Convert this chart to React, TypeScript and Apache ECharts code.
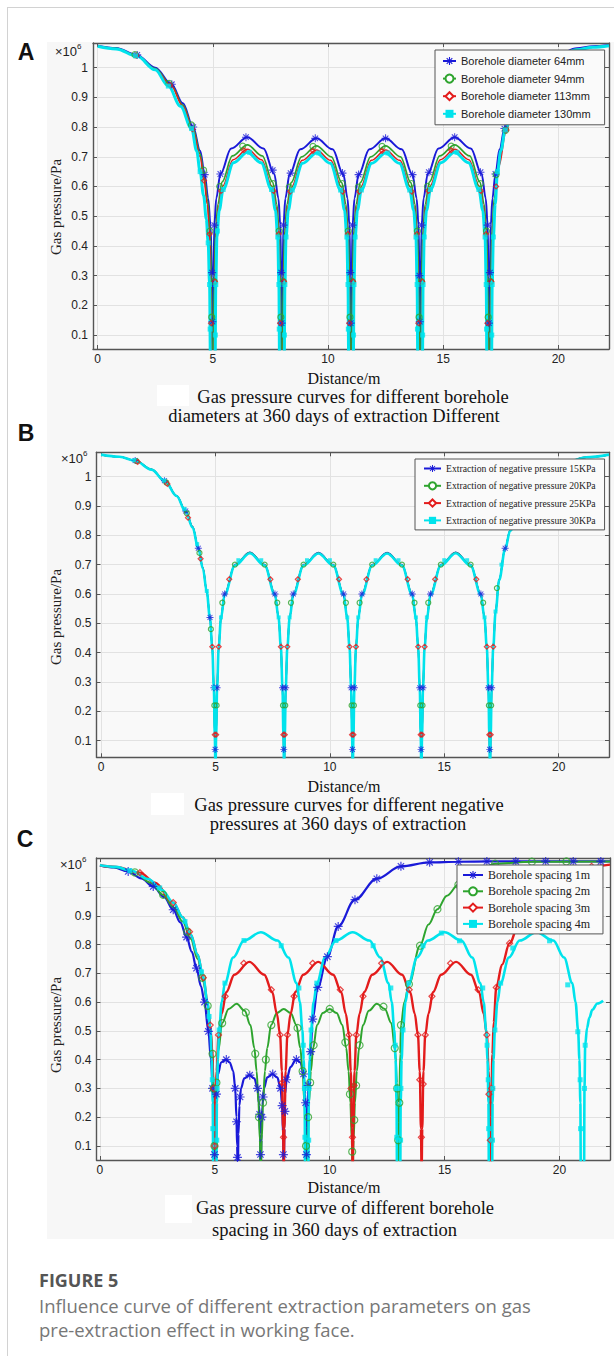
import React, { useEffect, useRef } from "react";
import * as echarts from "echarts";

// ---------------- data (pressure in 10^6 Pa) ----------------
const xTicks = [0, 5, 10, 15, 20];
const yTicks = [0.1, 0.2, 0.3, 0.4, 0.5, 0.6, 0.7, 0.8, 0.9, 1];

const namesA = ["Borehole diameter 64mm", "Borehole diameter 94mm", "Borehole diameter 113mm", "Borehole diameter 130mm"];
const namesB = [
  "Extraction of negative pressure 15KPa",
  "Extraction of negative pressure 20KPa",
  "Extraction of negative pressure 25KPa",
  "Extraction of negative pressure 30KPa",
];
const namesC = ["Borehole spacing 1m", "Borehole spacing 2m", "Borehole spacing 3m", "Borehole spacing 4m"];

// Panel A – borehole diameter
const aLine64 = [
  [0, 1.074], [0.8, 1.066], [1.7, 1.043], [2.5, 1.0], [3.2, 0.945], [3.7, 0.88], [4.15, 0.8], [4.45, 0.72], [4.65, 0.64], [4.8, 0.56], [4.9, 0.47], [4.97, 0.3], [5, 0],
  [5.03, 0.3], [5.07, 0.47], [5.15, 0.56], [5.33, 0.642], [5.8, 0.728], [6.5, 0.766], [7.2, 0.728], [7.67, 0.642], [7.85, 0.56], [7.93, 0.47], [7.97, 0.3], [8, 0],
  [8.03, 0.3], [8.07, 0.47], [8.15, 0.56], [8.33, 0.64], [8.8, 0.725], [9.5, 0.762], [10.2, 0.725], [10.67, 0.64], [10.85, 0.56], [10.93, 0.47], [10.97, 0.3], [11, 0],
  [11.03, 0.3], [11.07, 0.47], [11.15, 0.56], [11.33, 0.64], [11.8, 0.725], [12.5, 0.762], [13.2, 0.725], [13.67, 0.64], [13.85, 0.56], [13.93, 0.47], [13.97, 0.3], [14, 0],
  [14.03, 0.3], [14.07, 0.47], [14.15, 0.56], [14.33, 0.642], [14.8, 0.728], [15.5, 0.766], [16.2, 0.728], [16.67, 0.642], [16.85, 0.56], [16.93, 0.47], [16.97, 0.3], [17, 0],
  [17.03, 0.3], [17.07, 0.47], [17.14, 0.56], [17.27, 0.642], [17.45, 0.725], [17.68, 0.8], [18, 0.87], [18.5, 0.945], [19.2, 1.005], [20, 1.045], [20.8, 1.065], [21.5, 1.072], [22.2, 1.076],
];
const aLine94 = [
  [0, 1.073], [0.8, 1.065], [1.7, 1.041], [2.5, 0.997], [3.2, 0.94], [3.7, 0.874], [4.15, 0.793], [4.45, 0.71], [4.63, 0.63], [4.78, 0.55], [4.88, 0.45], [4.94, 0.28], [4.97, 0],
  [5.03, 0], [5.06, 0.28], [5.12, 0.45], [5.22, 0.54], [5.4, 0.615], [5.85, 0.703], [6.5, 0.74], [7.15, 0.703], [7.6, 0.615], [7.78, 0.54], [7.88, 0.45], [7.94, 0.28], [7.97, 0],
  [8.03, 0], [8.06, 0.28], [8.12, 0.45], [8.22, 0.54], [8.4, 0.613], [8.85, 0.7], [9.5, 0.737], [10.15, 0.7], [10.6, 0.613], [10.78, 0.54], [10.88, 0.45], [10.94, 0.28], [10.97, 0],
  [11.03, 0], [11.06, 0.28], [11.12, 0.45], [11.22, 0.54], [11.4, 0.613], [11.85, 0.7], [12.5, 0.737], [13.15, 0.7], [13.6, 0.613], [13.78, 0.54], [13.88, 0.45], [13.94, 0.28], [13.97, 0],
  [14.03, 0], [14.06, 0.28], [14.12, 0.45], [14.22, 0.54], [14.4, 0.615], [14.85, 0.703], [15.5, 0.74], [16.15, 0.703], [16.6, 0.615], [16.78, 0.54], [16.88, 0.45], [16.94, 0.28], [16.97, 0],
  [17.03, 0], [17.06, 0.28], [17.12, 0.45], [17.22, 0.56], [17.4, 0.675], [17.7, 0.785], [18, 0.858], [18.5, 0.938], [19.2, 0.999], [20, 1.041], [20.8, 1.062], [21.5, 1.07], [22.2, 1.075],
];
const aLine113 = [
  [0, 1.073], [0.8, 1.064], [1.7, 1.04], [2.5, 0.995], [3.2, 0.937], [3.7, 0.87], [4.15, 0.787], [4.45, 0.7], [4.62, 0.62], [4.76, 0.54], [4.86, 0.44], [4.91, 0.28], [4.94, 0],
  [5.06, 0], [5.09, 0.28], [5.14, 0.44], [5.24, 0.53], [5.42, 0.6], [5.88, 0.69], [6.5, 0.725], [7.12, 0.69], [7.58, 0.6], [7.76, 0.53], [7.86, 0.44], [7.91, 0.28], [7.94, 0],
  [8.06, 0], [8.09, 0.28], [8.14, 0.44], [8.24, 0.53], [8.42, 0.598], [8.88, 0.688], [9.5, 0.723], [10.12, 0.688], [10.58, 0.598], [10.76, 0.53], [10.86, 0.44], [10.91, 0.28], [10.94, 0],
  [11.06, 0], [11.09, 0.28], [11.14, 0.44], [11.24, 0.53], [11.42, 0.598], [11.88, 0.688], [12.5, 0.723], [13.12, 0.688], [13.58, 0.598], [13.76, 0.53], [13.86, 0.44], [13.91, 0.28], [13.94, 0],
  [14.06, 0], [14.09, 0.28], [14.14, 0.44], [14.24, 0.53], [14.42, 0.6], [14.88, 0.69], [15.5, 0.725], [16.12, 0.69], [16.58, 0.6], [16.76, 0.53], [16.86, 0.44], [16.91, 0.28], [16.94, 0],
  [17.06, 0], [17.09, 0.28], [17.14, 0.44], [17.24, 0.55], [17.42, 0.668], [17.72, 0.78], [18, 0.852], [18.5, 0.934], [19.2, 0.996], [20, 1.039], [20.8, 1.061], [21.5, 1.069], [22.2, 1.075],
];
const aLine130 = [
  [0, 1.072], [0.8, 1.063], [1.7, 1.039], [2.5, 0.993], [3.07, 0.938], [3.6, 0.87], [4.08, 0.795], [4.3, 0.72], [4.45, 0.65], [4.6, 0.57], [4.72, 0.49], [4.8, 0.41], [4.86, 0.27], [4.9, 0],
  [5.1, 0], [5.13, 0.27], [5.18, 0.43], [5.28, 0.52], [5.45, 0.59], [5.9, 0.68], [6.5, 0.715], [7.1, 0.68], [7.55, 0.59], [7.72, 0.52], [7.82, 0.43], [7.87, 0.27], [7.9, 0],
  [8.1, 0], [8.13, 0.27], [8.18, 0.43], [8.28, 0.52], [8.45, 0.588], [8.9, 0.678], [9.5, 0.713], [10.1, 0.678], [10.55, 0.588], [10.72, 0.52], [10.82, 0.43], [10.87, 0.27], [10.9, 0],
  [11.1, 0], [11.13, 0.27], [11.18, 0.43], [11.28, 0.52], [11.45, 0.588], [11.9, 0.678], [12.5, 0.713], [13.1, 0.678], [13.55, 0.588], [13.72, 0.52], [13.82, 0.43], [13.87, 0.27], [13.9, 0],
  [14.1, 0], [14.13, 0.27], [14.18, 0.43], [14.28, 0.52], [14.45, 0.59], [14.9, 0.68], [15.5, 0.715], [16.1, 0.68], [16.55, 0.59], [16.72, 0.52], [16.82, 0.43], [16.87, 0.27], [16.9, 0],
  [17.1, 0], [17.13, 0.27], [17.18, 0.43], [17.26, 0.54], [17.36, 0.65], [17.5, 0.72], [17.7, 0.79], [18, 0.853], [18.5, 0.932], [19.2, 0.995], [20, 1.038], [20.8, 1.06], [21.5, 1.069], [22.2, 1.074],
];
const aMark64 = [
  [1.72, 1.043], [3.22, 0.944], [4.15, 0.8], [4.65, 0.64],
  [5.07, 0.47], [4.97, 0.31], [4.985, 0.145], [5.33, 0.642], [6.44, 0.766], [7.6, 0.655],
  [8.07, 0.47], [7.97, 0.31], [7.985, 0.14], [8.38, 0.645], [9.45, 0.762], [10.63, 0.645],
  [11.07, 0.47], [10.97, 0.31], [10.985, 0.14], [11.33, 0.64], [12.5, 0.762], [13.67, 0.64],
  [14.07, 0.47], [13.97, 0.3], [13.985, 0.145], [14.38, 0.648], [15.5, 0.766], [16.62, 0.648],
  [16.93, 0.47], [17.03, 0.31], [16.985, 0.14], [17.27, 0.642], [17.66, 0.795],
];
const aMark94 = [
  [1.62, 1.044], [3.1, 0.947], [4.08, 0.807], [4.6, 0.655],
  [4.88, 0.45], [5.06, 0.28], [4.955, 0.16], [5.3, 0.6], [6.3, 0.736], [7.62, 0.61],
  [7.88, 0.45], [8.06, 0.28], [7.955, 0.16], [8.32, 0.598], [9.35, 0.735], [10.62, 0.61],
  [10.88, 0.45], [11.06, 0.28], [10.955, 0.16], [11.32, 0.598], [12.35, 0.735], [13.62, 0.61],
  [13.88, 0.45], [14.06, 0.28], [13.955, 0.16], [14.32, 0.6], [15.35, 0.736], [16.62, 0.61],
  [16.88, 0.45], [17.06, 0.28], [16.955, 0.16], [17.3, 0.64], [17.72, 0.79],
];
const aMark113 = [
  [1.68, 1.04], [3.15, 0.941], [4.12, 0.793], [4.62, 0.62],
  [4.86, 0.44], [5.09, 0.28], [4.925, 0.14], [5.36, 0.585], [6.35, 0.722], [7.64, 0.585],
  [7.86, 0.44], [8.09, 0.28], [7.925, 0.14], [8.36, 0.583], [9.35, 0.72], [10.64, 0.583],
  [10.86, 0.44], [11.09, 0.28], [10.925, 0.14], [11.36, 0.583], [12.35, 0.72], [13.64, 0.583],
  [13.86, 0.44], [14.09, 0.28], [13.925, 0.14], [14.36, 0.585], [15.35, 0.722], [16.64, 0.585],
  [16.86, 0.44], [17.09, 0.28], [16.925, 0.14], [17.3, 0.6], [17.74, 0.79],
];
const aMark130 = [
  [1.65, 1.04], [3.07, 0.938], [4.08, 0.795], [4.45, 0.65], [4.8, 0.41], [4.86, 0.27], [4.885, 0.12],
  [5.13, 0.27], [5.2, 0.45], [5.11, 0.1], [5.45, 0.59], [6.6, 0.715], [7.55, 0.59], [7.82, 0.43], [7.87, 0.27], [7.885, 0.12],
  [8.13, 0.27], [8.18, 0.43], [8.11, 0.1], [8.45, 0.588], [9.6, 0.713], [10.55, 0.588], [10.82, 0.43], [10.87, 0.27], [10.885, 0.12],
  [11.13, 0.27], [11.18, 0.43], [11.11, 0.1], [11.45, 0.588], [12.6, 0.713], [13.55, 0.588], [13.82, 0.43], [13.87, 0.27], [13.885, 0.12],
  [14.13, 0.27], [14.18, 0.43], [14.11, 0.1], [14.45, 0.59], [15.6, 0.715], [16.55, 0.59], [16.82, 0.43], [16.87, 0.27], [16.885, 0.12],
  [17.13, 0.27], [17.18, 0.43], [17.11, 0.1], [17.36, 0.65], [17.7, 0.79],
];

// Panel B – negative pressure (the four curves almost coincide)
const bX = [
  0, 0.8, 1.5, 2.2, 2.8, 3.3, 3.7, 4.0, 4.25, 4.45, 4.62, 4.76, 4.86, 4.93, 4.97, 5,
  5.03, 5.07, 5.14, 5.24, 5.4, 5.85, 6.5, 7.15, 7.6, 7.76, 7.86, 7.93, 7.97, 8,
  8.03, 8.07, 8.14, 8.24, 8.4, 8.85, 9.5, 10.15, 10.6, 10.76, 10.86, 10.93, 10.97, 11,
  11.03, 11.07, 11.14, 11.24, 11.4, 11.85, 12.5, 13.15, 13.6, 13.76, 13.86, 13.93, 13.97, 14,
  14.03, 14.07, 14.14, 14.24, 14.4, 14.85, 15.5, 16.15, 16.6, 16.76, 16.86, 16.93, 16.97, 17,
  17.03, 17.07, 17.14, 17.24, 17.4, 17.66, 17.88, 18.3, 19, 19.7, 20.35, 21.2, 22.2,
];
const bY15 = [
  1.075, 1.068, 1.055, 1.025, 0.985, 0.935, 0.883, 0.83, 0.758, 0.69, 0.61, 0.52, 0.42, 0.28, 0.12, 0,
  0.12, 0.28, 0.42, 0.52, 0.6, 0.7, 0.742, 0.7, 0.6, 0.52, 0.42, 0.28, 0.12, 0,
  0.12, 0.28, 0.42, 0.52, 0.6, 0.7, 0.741, 0.7, 0.6, 0.52, 0.42, 0.28, 0.12, 0,
  0.12, 0.28, 0.42, 0.52, 0.6, 0.7, 0.741, 0.7, 0.6, 0.52, 0.42, 0.28, 0.12, 0,
  0.12, 0.28, 0.42, 0.52, 0.6, 0.7, 0.742, 0.7, 0.6, 0.52, 0.42, 0.28, 0.12, 0,
  0.12, 0.28, 0.42, 0.54, 0.65, 0.756, 0.818, 0.9, 0.98, 1.025, 1.05, 1.066, 1.075,
];
const bY20 = [
  1.075, 1.068, 1.055, 1.025, 0.985, 0.935, 0.882, 0.829, 0.757, 0.689, 0.609, 0.519, 0.419, 0.279, 0.119, 0,
  0.119, 0.279, 0.419, 0.519, 0.599, 0.699, 0.741, 0.699, 0.599, 0.519, 0.419, 0.279, 0.119, 0,
  0.119, 0.279, 0.419, 0.519, 0.599, 0.699, 0.74, 0.699, 0.599, 0.519, 0.419, 0.279, 0.119, 0,
  0.119, 0.279, 0.419, 0.519, 0.599, 0.699, 0.74, 0.699, 0.599, 0.519, 0.419, 0.279, 0.119, 0,
  0.119, 0.279, 0.419, 0.519, 0.599, 0.699, 0.741, 0.699, 0.599, 0.519, 0.419, 0.279, 0.119, 0,
  0.119, 0.279, 0.419, 0.539, 0.649, 0.755, 0.817, 0.899, 0.979, 1.024, 1.05, 1.066, 1.075,
];
const bY25 = [
  1.075, 1.068, 1.054, 1.024, 0.984, 0.934, 0.881, 0.828, 0.756, 0.688, 0.608, 0.518, 0.418, 0.278, 0.118, 0,
  0.118, 0.278, 0.418, 0.518, 0.598, 0.698, 0.74, 0.698, 0.598, 0.518, 0.418, 0.278, 0.118, 0,
  0.118, 0.278, 0.418, 0.518, 0.598, 0.698, 0.739, 0.698, 0.598, 0.518, 0.418, 0.278, 0.118, 0,
  0.118, 0.278, 0.418, 0.518, 0.598, 0.698, 0.739, 0.698, 0.598, 0.518, 0.418, 0.278, 0.118, 0,
  0.118, 0.278, 0.418, 0.518, 0.598, 0.698, 0.74, 0.698, 0.598, 0.518, 0.418, 0.278, 0.118, 0,
  0.118, 0.278, 0.418, 0.538, 0.648, 0.754, 0.816, 0.898, 0.978, 1.024, 1.05, 1.066, 1.075,
];
const bY30 = [
  1.075, 1.068, 1.054, 1.024, 0.984, 0.934, 0.88, 0.827, 0.755, 0.687, 0.607, 0.517, 0.417, 0.277, 0.117, 0,
  0.117, 0.277, 0.417, 0.517, 0.597, 0.697, 0.739, 0.697, 0.597, 0.517, 0.417, 0.277, 0.117, 0,
  0.117, 0.277, 0.417, 0.517, 0.597, 0.697, 0.738, 0.697, 0.597, 0.517, 0.417, 0.277, 0.117, 0,
  0.117, 0.277, 0.417, 0.517, 0.597, 0.697, 0.738, 0.697, 0.597, 0.517, 0.417, 0.277, 0.117, 0,
  0.117, 0.277, 0.417, 0.517, 0.597, 0.697, 0.739, 0.697, 0.597, 0.517, 0.417, 0.277, 0.117, 0,
  0.117, 0.277, 0.417, 0.537, 0.647, 0.753, 0.815, 0.897, 0.977, 1.023, 1.049, 1.066, 1.075,
];
const bMark15 = [
  [1.49, 1.055], [2.77, 0.986], [3.7, 0.883], [4.25, 0.756], [4.76, 0.52], [4.93, 0.28], [4.985, 0.07],
  [5.07, 0.28], [5.4, 0.6], [7.6, 0.6], [7.93, 0.28], [7.985, 0.07],
  [8.07, 0.28], [8.4, 0.6], [10.6, 0.6], [10.93, 0.28], [10.985, 0.07],
  [11.07, 0.28], [11.4, 0.6], [13.6, 0.6], [13.93, 0.28], [13.985, 0.07],
  [14.07, 0.28], [14.4, 0.6], [16.6, 0.6], [16.93, 0.28], [16.985, 0.07],
  [17.07, 0.28], [17.66, 0.756],
];
const bMark20 = [
  [1.55, 1.053], [2.85, 0.98], [3.75, 0.875], [4.3, 0.74], [4.8, 0.48], [4.95, 0.22], [5.05, 0.22],
  [5.3, 0.57], [5.85, 0.7], [7.15, 0.7], [7.7, 0.57], [7.95, 0.22], [8.05, 0.22],
  [8.3, 0.57], [8.85, 0.7], [10.15, 0.7], [10.7, 0.57], [10.95, 0.22], [11.05, 0.22],
  [11.3, 0.57], [11.85, 0.7], [13.15, 0.7], [13.7, 0.57], [13.95, 0.22], [14.05, 0.22],
  [14.3, 0.57], [14.85, 0.7], [16.15, 0.7], [16.7, 0.57], [16.95, 0.22], [17.05, 0.22], [17.3, 0.62],
];
const bMark25 = [
  [1.6, 1.05], [2.9, 0.975], [3.8, 0.86], [4.35, 0.72], [4.86, 0.42], [4.97, 0.12], [5.03, 0.12],
  [5.14, 0.42], [5.6, 0.65], [7.4, 0.65], [7.86, 0.42], [7.97, 0.12], [8.03, 0.12],
  [8.14, 0.42], [8.6, 0.65], [10.4, 0.65], [10.86, 0.42], [10.97, 0.12], [11.03, 0.12],
  [11.14, 0.42], [11.6, 0.65], [13.4, 0.65], [13.86, 0.42], [13.97, 0.12], [14.03, 0.12],
  [14.14, 0.42], [14.6, 0.65], [16.4, 0.65], [16.86, 0.42], [16.97, 0.12], [17.03, 0.12], [17.14, 0.42],
];
const bMark30 = [
  [1.45, 1.056], [2.75, 0.987], [3.65, 0.89], [4.2, 0.77], [4.62, 0.61], [4.93, 0.28],
  [5.24, 0.52], [6.0, 0.715], [7.0, 0.715], [7.76, 0.52],
  [8.24, 0.52], [9.0, 0.715], [10.0, 0.715], [10.76, 0.52],
  [11.24, 0.52], [12.0, 0.715], [13.0, 0.715], [13.76, 0.52],
  [14.24, 0.52], [15.0, 0.715], [16.0, 0.715], [16.76, 0.52], [17.24, 0.54], [17.5, 0.7],
];

// Panel C – borehole spacing
const cLine1 = [
  [0, 1.075], [0.6, 1.068], [1.23, 1.054], [1.8, 1.03], [2.32, 1.002], [2.8, 0.965], [3.19, 0.921], [3.5, 0.877], [3.77, 0.826], [4.0, 0.775], [4.2, 0.718], [4.4, 0.655], [4.55, 0.6], [4.72, 0.498], [4.83, 0.4], [4.92, 0.28], [4.97, 0.14], [5, 0],
  [5.03, 0.16], [5.07, 0.28], [5.14, 0.35], [5.27, 0.39], [5.47, 0.4], [5.65, 0.39], [5.8, 0.36], [5.89, 0.3], [5.94, 0.2], [5.97, 0.1], [6, 0],
  [6.03, 0.14], [6.07, 0.24], [6.14, 0.3], [6.28, 0.335], [6.5, 0.346], [6.72, 0.335], [6.86, 0.3], [6.93, 0.24], [6.97, 0.14], [7, 0],
  [7.03, 0.14], [7.07, 0.24], [7.14, 0.3], [7.28, 0.338], [7.5, 0.35], [7.72, 0.338], [7.86, 0.3], [7.93, 0.24], [7.97, 0.14], [8, 0],
  [8.03, 0.16], [8.06, 0.28], [8.12, 0.33], [8.3, 0.375], [8.53, 0.4], [8.73, 0.39], [8.86, 0.35], [8.94, 0.28], [8.97, 0.16], [9, 0],
  [9.03, 0.2], [9.1, 0.35], [9.17, 0.428], [9.26, 0.541], [9.48, 0.651], [9.9, 0.758], [10.37, 0.863], [11.1, 0.956], [12.05, 1.029], [13.1, 1.072], [14.35, 1.086], [15.6, 1.088], [17, 1.089], [22.2, 1.089],
];
const cLine2 = [
  [0, 1.075], [0.7, 1.069], [1.52, 1.051], [2.2, 1.015], [2.75, 0.973], [3.2, 0.93], [3.6, 0.88], [3.95, 0.82], [4.25, 0.75], [4.5, 0.67], [4.69, 0.587], [4.82, 0.5], [4.9, 0.42], [4.95, 0.3], [4.98, 0.15], [5, 0],
  [5.03, 0.18], [5.07, 0.32], [5.15, 0.43], [5.32, 0.527], [5.6, 0.576], [5.95, 0.594], [6.3, 0.57], [6.55, 0.52], [6.72, 0.44], [6.82, 0.36], [6.9, 0.25], [6.96, 0.12], [7, 0],
  [7.04, 0.12], [7.1, 0.25], [7.18, 0.36], [7.28, 0.44], [7.45, 0.52], [7.7, 0.562], [8, 0.576], [8.3, 0.562], [8.55, 0.52], [8.72, 0.44], [8.82, 0.36], [8.9, 0.25], [8.96, 0.12], [9, 0],
  [9.04, 0.12], [9.1, 0.25], [9.18, 0.36], [9.28, 0.44], [9.45, 0.52], [9.7, 0.562], [10, 0.576], [10.3, 0.562], [10.55, 0.52], [10.72, 0.44], [10.82, 0.36], [10.9, 0.25], [10.96, 0.12], [11, 0],
  [11.04, 0.12], [11.1, 0.25], [11.18, 0.36], [11.28, 0.44], [11.45, 0.52], [11.7, 0.57], [12.05, 0.594], [12.4, 0.576], [12.68, 0.527], [12.85, 0.43], [12.93, 0.32], [12.97, 0.18], [13, 0],
  [13.03, 0.25], [13.07, 0.42], [13.1, 0.52], [13.25, 0.6], [13.45, 0.662], [13.93, 0.796], [14.3, 0.87], [14.69, 0.923], [15.1, 0.97], [15.6, 1.008], [16.3, 1.05], [17.2, 1.081], [18.8, 1.088], [22.2, 1.089],
];
const cLine3 = [
  [0, 1.075], [0.7, 1.07], [1.74, 1.05], [2.4, 1.015], [3.19, 0.946], [3.6, 0.895], [3.95, 0.835], [4.25, 0.765], [4.5, 0.685], [4.68, 0.6], [4.8, 0.52], [4.88, 0.44], [4.94, 0.3], [4.98, 0.15], [5, 0],
  [5.03, 0.16], [5.08, 0.36], [5.16, 0.486], [5.3, 0.56], [5.5, 0.635], [5.85, 0.695], [6.5, 0.74], [7.15, 0.695], [7.5, 0.635], [7.7, 0.56], [7.84, 0.486], [7.92, 0.36], [7.97, 0.16], [8, 0],
  [8.03, 0.16], [8.08, 0.36], [8.16, 0.486], [8.3, 0.56], [8.5, 0.635], [8.85, 0.695], [9.5, 0.74], [10.15, 0.695], [10.5, 0.635], [10.7, 0.56], [10.84, 0.486], [10.92, 0.36], [10.97, 0.16], [11, 0],
  [11.03, 0.16], [11.08, 0.36], [11.16, 0.486], [11.3, 0.56], [11.5, 0.635], [11.85, 0.695], [12.5, 0.74], [13.15, 0.695], [13.5, 0.635], [13.7, 0.56], [13.84, 0.486], [13.92, 0.36], [13.97, 0.16], [14, 0],
  [14.03, 0.16], [14.08, 0.36], [14.16, 0.486], [14.3, 0.56], [14.5, 0.635], [14.85, 0.695], [15.5, 0.74], [16.15, 0.695], [16.5, 0.635], [16.7, 0.56], [16.84, 0.486], [16.92, 0.36], [16.97, 0.16], [17, 0],
  [17.03, 0.2], [17.08, 0.42], [17.14, 0.53], [17.25, 0.651], [17.5, 0.73], [17.83, 0.805], [18.3, 0.89], [19, 0.97], [19.8, 1.03], [20.6, 1.06], [21.4, 1.072], [22.2, 1.078],
];
const cLine4 = [
  [0, 1.076], [0.7, 1.07], [1.4, 1.056], [2.1, 1.028], [2.7, 0.99], [3.2, 0.945], [3.6, 0.895], [3.95, 0.835], [4.25, 0.765], [4.5, 0.685], [4.68, 0.6], [4.8, 0.51], [4.87, 0.4], [4.91, 0.25], [4.93, 0],
  [5.07, 0], [5.09, 0.25], [5.13, 0.4], [5.19, 0.503], [5.3, 0.6], [5.44, 0.666], [5.8, 0.755], [6.27, 0.814], [7, 0.843], [7.73, 0.814], [8.2, 0.755], [8.56, 0.666], [8.7, 0.6], [8.81, 0.503], [8.87, 0.4], [8.91, 0.25], [8.93, 0],
  [9.07, 0], [9.09, 0.25], [9.13, 0.4], [9.19, 0.503], [9.3, 0.6], [9.44, 0.666], [9.8, 0.755], [10.27, 0.814], [11, 0.843], [11.73, 0.814], [12.2, 0.755], [12.56, 0.666], [12.7, 0.6], [12.81, 0.503], [12.87, 0.4], [12.91, 0.25], [12.93, 0],
  [13.07, 0], [13.09, 0.25], [13.13, 0.4], [13.19, 0.503], [13.3, 0.6], [13.44, 0.666], [13.8, 0.755], [14.27, 0.814], [15, 0.843], [15.73, 0.814], [16.2, 0.755], [16.56, 0.666], [16.7, 0.6], [16.81, 0.503], [16.87, 0.4], [16.91, 0.25], [16.93, 0],
  [17.07, 0], [17.09, 0.25], [17.13, 0.4], [17.19, 0.503], [17.3, 0.6], [17.44, 0.666], [17.8, 0.755], [18.27, 0.814], [19, 0.843], [19.73, 0.814], [20.2, 0.755], [20.56, 0.666], [20.7, 0.6], [20.81, 0.503], [20.87, 0.4], [20.91, 0.25], [20.93, 0],
  [21.07, 0], [21.09, 0.3], [21.12, 0.45], [21.2, 0.51], [21.3, 0.545], [21.43, 0.573], [21.65, 0.595], [21.9, 0.605],
];
const cMark1 = [
  [1.23, 1.054], [2.32, 1.002], [3.19, 0.921], [3.77, 0.826], [4.2, 0.718], [4.55, 0.6], [4.72, 0.498], [4.9, 0.3], [4.985, 0.07],
  [5.07, 0.28], [5.5, 0.4], [5.89, 0.3], [5.945, 0.184], [5.985, 0.06], [6.1, 0.27], [6.52, 0.346], [6.86, 0.3], [6.95, 0.21], [6.985, 0.07],
  [7.05, 0.2], [7.1, 0.27], [7.52, 0.35], [7.86, 0.3], [7.93, 0.24], [7.985, 0.07], [8.05, 0.22], [8.12, 0.33], [8.55, 0.4], [8.86, 0.35],
  [8.95, 0.25], [8.985, 0.07], [9.06, 0.31], [9.17, 0.428], [9.26, 0.541], [9.48, 0.651], [9.9, 0.758], [10.37, 0.863], [11.1, 0.956],
  [12.05, 1.029], [13.1, 1.072], [14.35, 1.086], [15.6, 1.088], [16.84, 1.089], [18.1, 1.089], [19.4, 1.089], [20.6, 1.089], [21.8, 1.089],
];
const cMark2 = [
  [1.52, 1.051], [2.75, 0.973], [3.8, 0.845], [4.45, 0.685], [4.69, 0.587], [4.9, 0.42], [4.95, 0.3], [4.985, 0.1],
  [5.07, 0.32], [5.32, 0.527], [6.35, 0.564], [6.76, 0.42], [6.92, 0.2], [7.1, 0.25], [7.22, 0.4], [7.46, 0.52],
  [8.6, 0.51], [8.82, 0.36], [8.97, 0.1], [9.06, 0.2], [9.15, 0.32], [9.3, 0.45], [10, 0.576], [10.68, 0.46],
  [10.88, 0.28], [10.98, 0.08], [11.07, 0.19], [11.15, 0.31], [11.3, 0.45], [12.34, 0.584], [12.83, 0.44],
  [12.94, 0.3], [12.98, 0.12], [13.03, 0.25], [13.1, 0.52], [13.45, 0.662], [13.93, 0.796], [14.69, 0.923],
  [15.6, 1.008], [17.2, 1.081], [18.8, 1.088], [20.3, 1.089],
];
const cMark3 = [
  [1.74, 1.05], [3.19, 0.946], [3.9, 0.845], [4.5, 0.685], [4.8, 0.52], [4.94, 0.3], [4.99, 0.1],
  [5.16, 0.486], [5.45, 0.62], [6.26, 0.735], [7.46, 0.643], [7.84, 0.486], [7.93, 0.32], [7.99, 0.13],
  [8.16, 0.486], [8.45, 0.62], [9.26, 0.735], [10.46, 0.643], [10.84, 0.486], [10.93, 0.3], [10.99, 0.13], [11.06, 0.31],
  [11.16, 0.486], [11.45, 0.62], [12.26, 0.735], [13.46, 0.643], [13.84, 0.486], [13.92, 0.33], [13.99, 0.13], [14.07, 0.315],
  [14.16, 0.486], [14.45, 0.62], [15.26, 0.735], [16.46, 0.643], [16.84, 0.486], [16.93, 0.28], [16.99, 0.12], [17.04, 0.3],
  [17.25, 0.651], [17.83, 0.805], [21.4, 1.072],
];
const cMark4 = [
  [1.3, 1.057], [2.6, 0.997], [3.7, 0.88], [4.42, 0.705], [4.75, 0.55], [4.89, 0.33], [4.915, 0.16],
  [5.1, 0.3], [5.085, 0.12], [5.19, 0.503], [5.44, 0.666], [6.27, 0.814], [7.89, 0.796], [8.66, 0.649], [8.85, 0.45], [8.9, 0.3], [8.92, 0.13],
  [9.1, 0.3], [9.085, 0.12], [9.19, 0.503], [9.44, 0.666], [10.27, 0.814], [11.89, 0.796], [12.66, 0.649], [12.85, 0.45], [12.9, 0.3], [12.92, 0.13],
  [13.1, 0.3], [13.085, 0.12], [13.19, 0.503], [13.44, 0.666], [14.06, 0.796], [14.86, 0.84], [15.65, 0.813], [16.66, 0.649], [16.85, 0.45], [16.9, 0.33], [16.92, 0.16],
  [17.1, 0.3], [17.085, 0.12], [17.19, 0.503], [17.44, 0.666], [17.97, 0.788], [19.57, 0.813], [20.36, 0.66], [20.8, 0.497], [20.9, 0.33], [20.92, 0.16],
  [21.09, 0.3], [21.12, 0.45],
];

// ---------------- styling ----------------
const BLUE = "#1a1ad8";
const GREEN = "#2ea42e";
const RED = "#e31c1c";
const CYAN = "#00e3ec";
const SANS = '"Liberation Sans", Arial, sans-serif';
const SERIF = '"Liberation Serif", "Times New Roman", serif';
const OPEN = '"Open Sans", "Noto Sans", sans-serif';
const ASTERISK =
  "path://M-0.8,-6L0.8,-6L0.8,6L-0.8,6Z M-6,-0.8L6,-0.8L6,0.8L-6,0.8Z M-4.77,-3.63L-3.63,-4.77L4.77,3.63L3.63,4.77Z M3.63,-4.77L4.77,-3.63L-3.63,4.77L-4.77,3.63Z";

const panels = [
  { grid: { left: 93, top: 43, width: 516, height: 306 }, xMin: -0.2, xMax: 22.2, yMin: 0.053, yMax: 1.083 },
  { grid: { left: 96.5, top: 452.3, width: 512.5, height: 305 }, xMin: -0.2, xMax: 22.2, yMin: 0.043, yMax: 1.083 },
  { grid: { left: 96.5, top: 858, width: 513.5, height: 302 }, xMin: -0.15, xMax: 22.2, yMin: 0.051, yMax: 1.101 },
];

function zip(xs: number[], ys: number[]) {
  return xs.map((x, i) => [x, ys[i]]);
}

function buildOption() {
  const grid: any[] = [];
  const xAxis: any[] = [];
  const yAxis: any[] = [];
  const axisLine = { show: true, onZero: false, lineStyle: { color: "#555", width: 1.4 } };
  const tick = (vals: number[]) => ({ show: true, inside: true, length: 4, customValues: vals, lineStyle: { color: "#555", width: 1 } });
  panels.forEach((p, i) => {
    grid.push({ ...p.grid, show: true, backgroundColor: "#f9f9f9", borderWidth: 0 });
    xAxis.push({
      type: "value", gridIndex: i, min: p.xMin, max: p.xMax, position: "bottom",
      axisLine, axisTick: tick(xTicks),
      axisLabel: { customValues: xTicks, margin: 4, fontFamily: SANS, fontSize: 12, color: "#222" },
      splitLine: { show: true, lineStyle: { color: "#e2e2e2", width: 1 } },
    });
    xAxis.push({
      type: "value", gridIndex: i, min: p.xMin, max: p.xMax, position: "top",
      axisLine, axisTick: tick(xTicks), axisLabel: { show: false }, splitLine: { show: false },
    });
    yAxis.push({
      type: "value", gridIndex: i, min: p.yMin, max: p.yMax, position: "left",
      axisLine, axisTick: tick(yTicks),
      axisLabel: { customValues: yTicks, margin: 5, fontFamily: SANS, fontSize: 12, color: "#222" },
      splitLine: { show: true, lineStyle: { color: "#e2e2e2", width: 1 } },
    });
    yAxis.push({
      type: "value", gridIndex: i, min: p.yMin, max: p.yMax, position: "right",
      axisLine, axisTick: tick(yTicks), axisLabel: { show: false }, splitLine: { show: false },
    });
  });

  const line = (name: string, data: number[][], color: string, width: number, symbol: string, p: number) => ({
    type: "line", name, data, xAxisIndex: 2 * p, yAxisIndex: 2 * p,
    smooth: 0.35, smoothMonotone: "x", showSymbol: false, symbol, symbolSize: 8,
    lineStyle: { color, width }, itemStyle: { color }, clip: true, silent: true, z: 2,
  });
  const marks = (name: string, data: number[][], color: string, symbol: string, size: number, hollow: boolean, p: number) => ({
    type: "scatter", name, data, xAxisIndex: 2 * p, yAxisIndex: 2 * p, symbol, symbolSize: size, clip: true, silent: true, z: 3,
    itemStyle: hollow ? { color: "rgba(0,0,0,0)", borderColor: color, borderWidth: 1.2 } : { color },
  });

  const series: any[] = [
    line(namesA[0], aLine64, BLUE, 2, ASTERISK, 0),
    line(namesA[1], aLine94, GREEN, 1.7, "emptyCircle", 0),
    line(namesA[2], aLine113, RED, 1.5, "emptyDiamond", 0),
    line(namesA[3], aLine130, CYAN, 3, "rect", 0),
    marks(namesA[0], aMark64, BLUE, ASTERISK, 8, false, 0),
    marks(namesA[1], aMark94, GREEN, "circle", 6, true, 0),
    marks(namesA[2], aMark113, RED, "diamond", 5, true, 0),
    marks(namesA[3], aMark130, CYAN, "rect", 5, false, 0),

    line(namesB[0], zip(bX, bY15), BLUE, 1.5, ASTERISK, 1),
    line(namesB[1], zip(bX, bY20), GREEN, 1.5, "emptyCircle", 1),
    line(namesB[2], zip(bX, bY25), RED, 1.5, "emptyDiamond", 1),
    line(namesB[3], zip(bX, bY30), CYAN, 2.6, "rect", 1),
    marks(namesB[0], bMark15, BLUE, ASTERISK, 7, false, 1),
    marks(namesB[1], bMark20, GREEN, "circle", 5, true, 1),
    marks(namesB[2], bMark25, RED, "diamond", 5, true, 1),
    marks(namesB[3], bMark30, CYAN, "rect", 4, false, 1),

    line(namesC[0], cLine1, BLUE, 2.2, ASTERISK, 2),
    line(namesC[1], cLine2, GREEN, 2, "emptyCircle", 2),
    line(namesC[2], cLine3, RED, 2.4, "emptyDiamond", 2),
    line(namesC[3], cLine4, CYAN, 2.6, "rect", 2),
    marks(namesC[0], cMark1, BLUE, ASTERISK, 9, false, 2),
    marks(namesC[1], cMark2, GREEN, "circle", 7, true, 2),
    marks(namesC[2], cMark3, RED, "diamond", 6, true, 2),
    marks(namesC[3], cMark4, CYAN, "rect", 5, false, 2),
  ];

  const legendBase = {
    orient: "vertical", selectedMode: false, backgroundColor: "#fafafa", borderColor: "#555", borderWidth: 1, borderRadius: 0,
  };
  const legend = [
    { ...legendBase, data: namesA, left: 435, top: 50, padding: [4, 14, 4, 7], itemGap: 3.6, itemWidth: 13, itemHeight: 10,
      textStyle: { fontFamily: SANS, fontSize: 11, color: "#222", lineHeight: 14 } },
    { ...legendBase, data: namesB, left: 415, top: 459, padding: [3, 9, 3, 8], itemGap: 4.3, itemWidth: 17, itemHeight: 9,
      textStyle: { fontFamily: SERIF, fontSize: 9.7, color: "#222", lineHeight: 13 } },
    { ...legendBase, data: namesC, left: 457, top: 865, padding: [3, 13, 3, 5], itemGap: 2.3, itemWidth: 20, itemHeight: 10,
      textStyle: { fontFamily: SERIF, fontSize: 12, color: "#222", lineHeight: 14 } },
  ];

  const txt = (text: string, x: number, y: number, font: string, fill = "#111", align = "center", rotation = 0) => ({
    type: "text", x, y, rotation, silent: true,
    style: { text, font, fill, align, textAlign: align, verticalAlign: "middle", textVerticalAlign: "middle" },
  });
  const capFont = `18.5px ${SERIF}`;
  const graphic: any[] = [
    txt("A", 26, 52, `bold 23px ${SANS}`, "#111"),
    txt("B", 26, 433, `bold 23px ${SANS}`, "#111"),
    txt("C", 25, 839, `bold 23px ${SANS}`, "#111"),

    txt("×10", 55, 51, `13px ${SANS}`, "#222", "left"),
    txt("6", 77, 46, `8px ${SANS}`, "#222", "left"),
    txt("×10", 61, 458, `13px ${SANS}`, "#222", "left"),
    txt("6", 83, 453, `8px ${SANS}`, "#222", "left"),
    txt("×10", 60, 864, `13px ${SANS}`, "#222", "left"),
    txt("6", 82, 859, `8px ${SANS}`, "#222", "left"),

    txt("Gas pressure/Pa", 56, 207, `15px ${SERIF}`, "#222", "center", Math.PI / 2),
    txt("Gas pressure/Pa", 56, 617, `15px ${SERIF}`, "#222", "center", Math.PI / 2),
    txt("Gas pressure/Pa", 56, 1025, `15px ${SERIF}`, "#222", "center", Math.PI / 2),

    txt("Distance/m", 344, 378, `16px ${SERIF}`),
    txt("Gas pressure curves for different borehole", 353, 396.5, capFont),
    txt("diameters at 360 days of extraction Different", 334, 415.5, capFont),

    txt("Distance/m", 344, 786, `16px ${SERIF}`),
    txt("Gas pressure curves for different negative", 349, 804.5, capFont),
    txt("pressures at 360 days of extraction", 338, 823.5, capFont),

    txt("Distance/m", 344, 1187, `16px ${SERIF}`),
    txt("Gas pressure curve of different borehole", 345, 1208, capFont),
    txt("spacing in 360 days of extraction", 334.5, 1229.5, capFont),

    txt("FIGURE 5", 39, 1280, `bold 18px ${OPEN}`, "#555", "left"),
    txt("Influence curve of different extraction parameters on gas", 39, 1305, `18.5px ${OPEN}`, "#777", "left"),
    txt("pre-extraction effect in working face.", 39, 1329, `18.5px ${OPEN}`, "#777", "left"),
  ];

  return { animation: false, grid, xAxis, yAxis, series, legend, graphic };
}

export default function App() {
  const ref = useRef<HTMLDivElement>(null);
  useEffect(() => {
    if (!ref.current) return;
    const chart = echarts.init(ref.current, null, { renderer: "svg" });
    chart.setOption(buildOption() as any);
    return () => chart.dispose();
  }, []);
  return (
    <div style={{ position: "absolute", left: 0, top: 0, width: 614, height: 1356, background: "#fff", overflow: "hidden" }}>
      <div style={{ position: "absolute", left: 7, top: 7, width: 620, height: 1360, borderLeft: "1px solid #d2d2d2", borderTop: "1px solid #d2d2d2" }} />
      <div style={{ position: "absolute", left: 47, top: 42, width: 567, height: 1197, background: "#f7f7f7" }} />
      <div style={{ position: "absolute", left: 157, top: 385, width: 32, height: 21, background: "#fff" }} />
      <div style={{ position: "absolute", left: 151, top: 793, width: 33, height: 22, background: "#fff" }} />
      <div style={{ position: "absolute", left: 165, top: 1195, width: 27, height: 28, background: "#fff" }} />
      <div ref={ref} style={{ position: "absolute", left: 0, top: 0, width: 614, height: 1356 }} />
    </div>
  );
}
